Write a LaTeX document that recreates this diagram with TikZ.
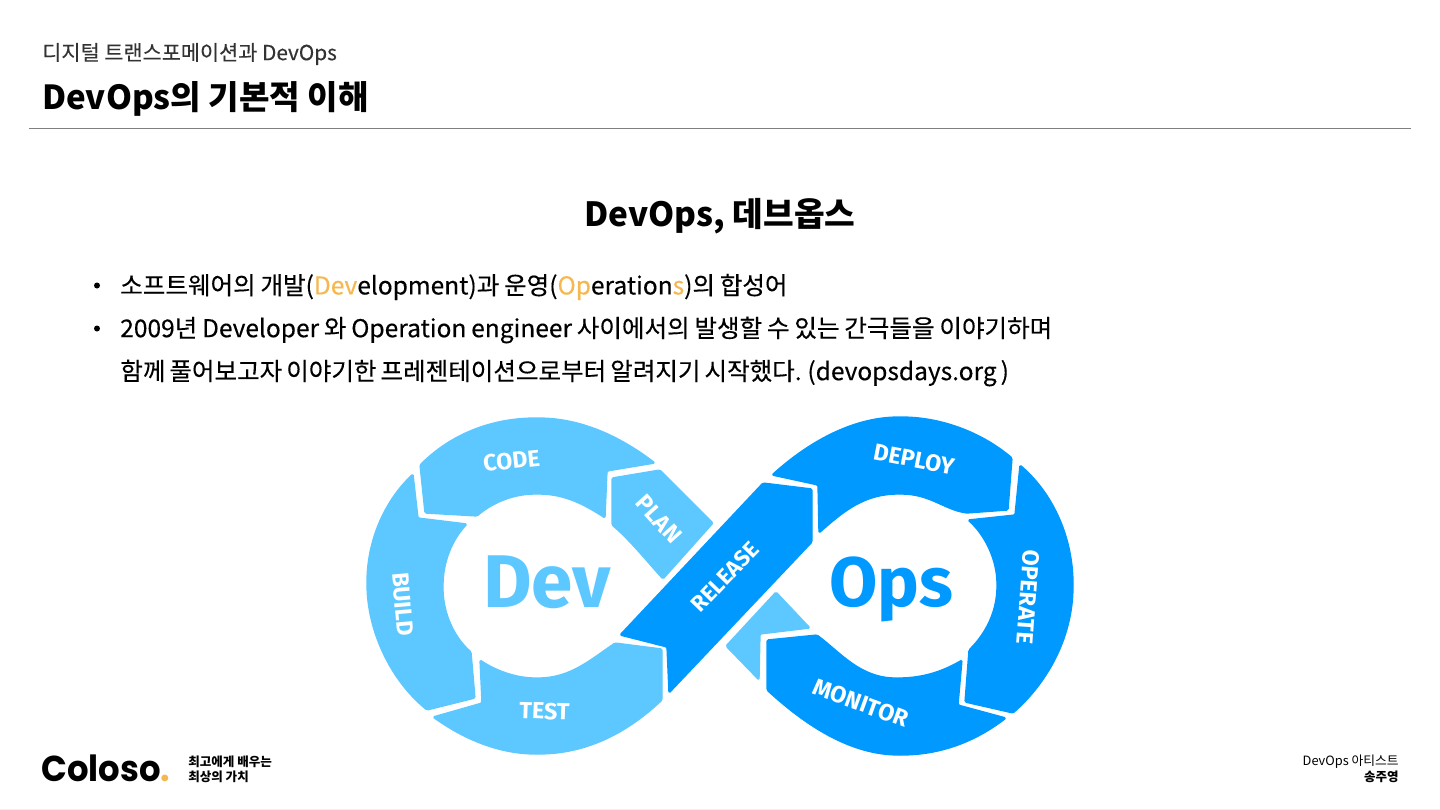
\documentclass[tikz,border=0pt]{standalone}
\usepackage{fontspec}
\setmainfont{Noto Sans CJK KR}
\newfontfamily\bodyfont[FakeBold=0.25]{Noto Sans CJK KR}
\newfontfamily\logofont{Poppins}
\newfontfamily\loopfont{Fira Sans}
\newcommand\bodyset{\bodyfont\fontsize{18.4}{18.4}\selectfont\spaceskip=3.6pt\relax}
\newcommand\tightset{\bodyfont\fontsize{18.4}{18.4}\selectfont\spaceskip=3pt\relax}
\definecolor{devblue}{RGB}{92,200,255}
\definecolor{opsblue}{RGB}{0,153,255}
\definecolor{accent}{RGB}{245,184,80}
\tikzset{
  devpart/.style={fill=devblue,draw=devblue,line width=1pt,line join=round,rounded corners=1pt},
  opspart/.style={fill=opsblue,draw=opsblue,line width=1pt,line join=round,rounded corners=1pt},
  looplabel/.style={text=white,font=\loopfont\bfseries\fontsize{17.5}{17.5}\selectfont,inner sep=0pt},
  bodyline/.style={anchor=west,inner sep=0pt,font=\bodyset},
  smallline/.style={inner sep=0pt,font=\fontsize{9.6}{9.6}\selectfont},
  smallbold/.style={inner sep=0pt,font=\bfseries\fontsize{9.4}{9.4}\selectfont}
}

\begin{document}
\begin{tikzpicture}[x=0.75pt,y=0.75pt,yscale=-1,xscale=1]
\useasboundingbox (0,0) rectangle (1440,810);

% Header
\draw (42,54) node [anchor=west,inner sep=0pt,font=\bodyfont\fontsize{15.6}{15.6}\selectfont,text=black!80] (chapter) {디지털 트랜스포메이션과 DevOps};
\draw (42,98.5) node [anchor=west,inner sep=0pt,font=\bfseries\fontsize{24.85}{24.85}\selectfont] (title) {DevOps의 기본적 이해};
\draw [color=black!50,line width=0.9pt] (29,128.5) -- (1411,128.5);

% Section head
\draw (720,216) node [inner sep=0pt,font=\bfseries\fontsize{25}{25}\selectfont] (section) {DevOps, 데브옵스};

% Bullets
\fill (97,285.5) circle (3);
\fill (97,328.5) circle (3);
\draw (120,287) node [bodyline] (lineone) {소프트웨어의 개발(\textcolor{accent}{Dev}elopment)과 운영(\textcolor{accent}{Op}eration\textcolor{accent}{s})의 합성어};
\draw (120,330) node [bodyline] (linetwo) {2009년 Developer 와 Operation engineer 사이에서의 발생할 수 있는 간극들을 이야기하며};
\draw (120,373) node [bodyline,font=\tightset] (linethree) {함께 풀어보고자 이야기한 프레젠테이션으로부터 알려지기 시작했다. (devopsdays.org )};

%Shape: Code
\draw [devpart] (420,465) .. controls (450,435) and (490,418) .. (537,418) .. controls (585,418) and (625,440) .. (655,463) -- (607,471) -- (605,518) .. controls (585,505) and (565,494) .. (537,494) .. controls (510,494) and (490,505) .. (477,516) -- (425,513) -- cycle;
%Shape: Plan
\draw [devpart] (612,478) -- (660,470) -- (713,523) -- (663,579) .. controls (650,565) and (630,540) .. (612,525) -- cycle;
%Shape: Build
\draw [devpart] (413,474) .. controls (385,500) and (367,540) .. (367,583) .. controls (367,630) and (390,680) .. (427,710) -- (475,698) -- (471,652) .. controls (452,635) and (443,610) .. (443,587) .. controls (443,562) and (452,540) .. (467,524) -- (418,518) -- cycle;
%Shape: Test
\draw [devpart] (480,660) .. controls (495,670) and (515,678) .. (537,678) .. controls (570,678) and (590,660) .. (615,643) -- (662,649) -- (662,700) .. controls (630,730) and (590,754) .. (537,754) .. controls (500,754) and (465,740) .. (433,717) -- (482,703) -- cycle;
%Shape: Release
\draw [opspart] (620,635) -- (763,483) -- (812,489) -- (812,542) -- (669,693) -- (667,647) -- cycle;
%Shape: Deploy
\draw [opspart] (772,475) .. controls (805,445) and (850,417) .. (900,417) .. controls (945,417) and (985,435) .. (1012,458) -- (1008,510) -- (967,513) .. controls (945,510) and (930,494) .. (900,494) .. controls (865,494) and (845,510) .. (819,533) -- (818,485) -- cycle;
%Shape: Operate
\draw [opspart] (1020,465) .. controls (1055,495) and (1073,540) .. (1073,585) .. controls (1073,640) and (1045,685) .. (1013,713) -- (965,702) -- (969,650) .. controls (987,632) and (997,610) .. (997,585) .. controls (997,560) and (985,535) .. (968,520) -- (1015,515) -- cycle;
%Shape: Monitor
\draw [opspart] (767,640) -- (817,635) .. controls (840,652) and (860,678) .. (897,678) .. controls (925,678) and (945,670) .. (962,660) -- (958,705) -- (1006,718) .. controls (975,742) and (940,755) .. (900,755) .. controls (850,755) and (805,725) .. (767,690) -- cycle;
%Shape: Corner piece
\draw [devpart] (776,592) -- (810,628) -- (760,634) -- (759,680) -- (726,646) -- cycle;

% Loop labels
\draw (511.5,461) node [looplabel,rotate=6] (code) {CODE};
\draw (659,519) node [looplabel,rotate=-48] (plan) {PLAN};
\draw (403,604) node [looplabel,rotate=-85] (build) {BUILD};
\draw (544.5,711) node [looplabel,rotate=-2] (test) {TEST};
\draw (725,577) node [looplabel,rotate=46,font=\loopfont\bfseries\fontsize{16.8}{16.8}\selectfont] (release) {RELEASE};
\draw (914,459) node [looplabel,rotate=-11] (deploy) {DEPLOY};
\draw (1028,597) node [looplabel,rotate=-94] (operate) {OPERATE};
\draw (861,703) node [looplabel,rotate=-20] (monitor) {MONITOR};
\draw (547,582) node [inner sep=0pt,text=devblue,font=\loopfont\bfseries\fontsize{56}{56}\selectfont] (dev) {Dev};
\draw (891.5,589) node [inner sep=0pt,text=opsblue,font=\loopfont\bfseries\fontsize{52.5}{52.5}\selectfont] (ops) {Ops};

% Footer
\draw (41,768.5) node [anchor=west,inner sep=0pt,xscale=0.94,font=\logofont\bfseries\fontsize{27}{27}\selectfont] (logo) {Coloso\textcolor{accent}{.}};
\draw (188,762) node [anchor=west,smallbold] (mottoa) {최고에게 배우는};
\draw (188,777) node [anchor=west,smallbold] (mottob) {최상의 가치};
\draw (1399,762) node [anchor=east,smallline] (course) {DevOps 아티스트};
\draw (1399,777) node [anchor=east,smallbold] (teacher) {송주영};
\draw [color=black!6,line width=1pt] (0,809.5) -- (1440,809.5);

\end{tikzpicture}
\end{document}
